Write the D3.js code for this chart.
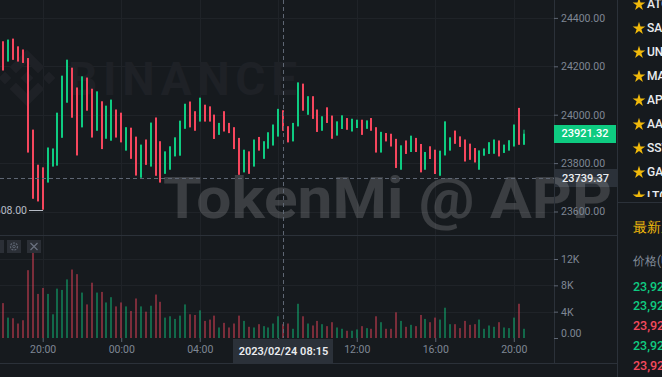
<!DOCTYPE html>
<html>
<head>
<meta charset="utf-8">
<script src="https://cdn.jsdelivr.net/npm/d3@7"></script>
<style>
body{margin:0;background:#161a1e;overflow:hidden;}
text{font-family:Roboto,"Noto Sans",sans-serif;}
</style>
</head>
<body>
<div id="chart"></div>
<script>
// BTC/USDT 15m candles, 2023-02-23 18:00 -> 2023-02-24 20:30
var open = [24303,24220,24314,24282,24269,24234,23938,23793,23782,23720,
    23786,23790,23905,24050,24194,24112,23948,24153,24107,23934,
    24055,23901,23893,24021,24008,23852,23946,23909,23740,23897,
    23786,23988,23890,23756,23773,23828,23831,23942,24054,24014,
    23972,24041,24034,24000,23917,24014,23966,23948,23904,23762,
    23848,23786,23908,23818,23860,23873,23910,24018,23952,23890,
    23952,24128,24000,24076,24021,23934,24030,23996,23914,23941,
    23986,23931,23945,23979,23942,23986,23948,23844,23924,23921,
    23900,23773,23893,23846,23904,23879,23773,23869,23855,23748,
    23832,23852,23934,23910,23897,23880,23862,23773,23831,23838,
    23839,23893,23842,23852,23869,24028,23876];
var high = [24303,24310,24314,24282,24269,24234,23938,23793,23782,23864,
    23860,24008,24161,24227,24194,24112,24158,24153,24107,24096,
    24055,24037,24062,24021,24008,23948,23946,23909,23876,23897,
    23967,23988,23890,23848,23869,23906,23975,24045,24054,24014,
    24070,24041,24034,24000,23966,24014,23966,23948,23904,23855,
    23848,23897,23908,23890,23927,23959,24024,24018,23952,23966,
    24133,24128,24076,24076,24021,23993,24030,23996,23972,23997,
    23986,23983,23979,23979,23976,23986,23948,23929,23924,23921,
    23900,23873,23893,23913,23904,23879,23846,23869,23855,23851,
    23972,23906,23934,23910,23897,23880,23862,23852,23860,23886,
    23897,23893,23876,23894,23959,24028,23938];
var low = [24183,24220,24227,24220,24214,23844,23653,23642,23608,23720,
    23786,23790,23905,24050,23988,23832,23948,24017,23906,23934,
    23858,23901,23893,23906,23886,23852,23818,23749,23740,23793,
    23786,23748,23720,23756,23773,23828,23831,23942,23948,23934,
    23972,23972,23972,23900,23917,23931,23924,23858,23752,23762,
    23756,23786,23852,23818,23860,23873,23910,23934,23886,23890,
    23952,24017,24000,23983,23929,23934,23966,23901,23914,23941,
    23938,23931,23945,23917,23942,23934,23844,23844,23890,23869,
    23780,23773,23838,23846,23846,23762,23773,23817,23755,23748,
    23832,23852,23880,23867,23807,23814,23803,23773,23831,23838,
    23839,23828,23842,23852,23869,23876,23876];
var close = [24183,24310,24227,24220,24214,23844,23653,23642,23608,23864,
    23860,24008,24161,24227,23988,23832,24158,24017,23906,24096,
    23858,24037,24062,23906,23886,23948,23818,23749,23876,23793,
    23967,23748,23720,23848,23869,23906,23975,24045,23948,23934,
    24070,23972,23972,23900,23966,23931,23924,23858,23752,23855,
    23756,23897,23852,23890,23927,23959,24024,23934,23886,23966,
    24133,24017,24076,23983,23929,23993,23966,23901,23972,23997,
    23938,23983,23979,23917,23976,23934,23844,23929,23890,23869,
    23780,23873,23838,23913,23846,23762,23846,23817,23755,23851,
    23972,23906,23880,23867,23807,23814,23803,23852,23860,23886,
    23897,23828,23876,23894,23959,23876,23921.32];
var volume = [5300,3100,3000,2200,2700,10300,13800,6700,7600,6700,
    3600,7500,7300,8900,10400,9700,6900,5100,8400,6900,
    7000,5400,6200,4800,5400,4800,4100,6000,4800,4000,
    4900,6600,5500,3100,3300,2900,3400,5100,3600,3500,
    4200,2600,2800,3400,1600,2300,1600,2200,3400,2600,
    1700,1600,2100,1800,1600,2200,3300,2100,2200,1400,
    5200,3300,2200,1900,2600,2100,1800,2400,1600,1400,
    1100,1100,1300,1800,1500,1400,3300,2400,1400,1400,
    3900,2600,1700,2000,1800,3500,2900,2400,3100,2800,
    4600,2100,2100,1500,2600,2000,2100,2800,1400,1900,
    1700,2400,1600,1500,3100,5200,1400];

var priceTicks = [23600, 23800, 24000, 24200, 24400];
var volTicks = [0, 4000, 8000, 12000];
var volTickLabels = ["0.00", "4K", "8K", "12K"];
var lastPrice = 23921.32;
var crossPrice = 23739.37;
var lowPrice = 23608.00;
var watchList = ["ATOM", "SAND", "UNI", "MATIC", "APT", "AAVE", "SSV", "GALA", "LTC"];
var tradePrices = ["23,921.32", "23,921.32", "23,921.31", "23,921.32", "23,921.31"];
var tradeSides = ["buy", "buy", "sell", "buy", "sell"];

var up = "#0ecb81", down = "#f6465d";
var W = 662, H = 377;

var times = d3.timeMinute.every(15).range(new Date(2023, 1, 23, 18, 0), new Date(2023, 1, 24, 20, 45));
var rows = times.map(function (t, i) {
    return {t: t, o: open[i], h: high[i], l: low[i], c: close[i], v: volume[i]};
});
var crossTime = new Date(2023, 1, 24, 8, 15);
var lowTime = new Date(2023, 1, 23, 20, 0);

var x = d3.scaleTime()
    .domain([new Date(2023, 1, 23, 17, 49, 30), new Date(2023, 1, 24, 22, 6, 0)])
    .range([0, 555]);
var y = d3.scaleLinear().domain([23600, 24400]).range([211.5, 17.9]);
var v = d3.scaleLinear().domain([0, 12000]).range([338, 259]);

var svg = d3.select("#chart").append("svg")
    .attr("width", W).attr("height", H);

var defs = svg.append("defs");
defs.append("clipPath").attr("id", "clipPrice").append("rect")
    .attr("x", 0).attr("y", 0).attr("width", 554).attr("height", 235);
defs.append("clipPath").attr("id", "clipWm").append("rect")
    .attr("x", 0).attr("y", 0).attr("width", 617).attr("height", 235);
defs.append("clipPath").attr("id", "clipList").append("rect")
    .attr("x", 618).attr("y", 0).attr("width", 44).attr("height", 197);

svg.append("rect").attr("width", W).attr("height", H).attr("fill", "#161a1e");

// grid
var grid = svg.append("g").attr("stroke", "#1f2328").attr("stroke-width", 1);
var hours = x.ticks(d3.timeHour.every(4));
grid.selectAll("line.gx").data(hours).enter().append("line")
    .attr("x1", function (d) { return Math.round(x(d)) + 0.5; })
    .attr("x2", function (d) { return Math.round(x(d)) + 0.5; })
    .attr("y1", 0).attr("y2", 338);
grid.selectAll("line.gy").data(priceTicks).enter().append("line")
    .attr("x1", 0).attr("x2", 554)
    .attr("y1", function (d) { return Math.round(y(d)) + 0.5; })
    .attr("y2", function (d) { return Math.round(y(d)) + 0.5; });
grid.selectAll("line.gv").data(volTicks.slice(1)).enter().append("line")
    .attr("x1", 0).attr("x2", 554)
    .attr("y1", function (d) { return Math.round(v(d)) + 0.5; })
    .attr("y2", function (d) { return Math.round(v(d)) + 0.5; });

// binance watermark
var wm = svg.append("g").attr("fill", "#1e2126");
wm.append("path")
    .attr("transform", "translate(-1.5,49.5) scale(0.45)")
    .attr("d", "M38.73 53.2l24.59-24.58 24.6 24.6 14.3-14.31L63.32 0 24.42 38.9l14.31 14.3zM0 63.31l14.3-14.31 14.31 14.31-14.31 14.3zM38.73 73.41l24.59 24.59 24.6-24.6 14.31 14.29-38.9 38.91-38.91-38.88-.02-.02 14.33-14.29zM98 63.31l14.3-14.31 14.31 14.3-14.31 14.32zM77.83 63.3L63.32 48.78 52.59 59.51l-1.24 1.23-2.54 2.54-.02.02.02.03 14.51 14.5 14.51-14.52.01-.01-.01-.01z");
wm.append("text").attr("x", 68).attr("y", 95)
    .attr("font-size", 46).attr("font-weight", 700)
    .attr("textLength", 229).attr("lengthAdjust", "spacing")
    .text("BINANCE");

// cross price label box (under watermark)
svg.append("rect").attr("x", 554).attr("y", Math.round(y(crossPrice)) - 9)
    .attr("width", 63).attr("height", 18).attr("fill", "#2b3139");

svg.append("text").attr("clip-path", "url(#clipWm)")
    .attr("x", 163).attr("y", 218)
    .attr("font-family", "'Noto Sans', sans-serif")
    .attr("font-size", 58).attr("font-weight", 700)
    .attr("textLength", 449).attr("lengthAdjust", "spacingAndGlyphs")
    .attr("fill", "rgba(255,255,255,0.16)")
    .text("TokenMi @ APP");

// candles
var cg = svg.append("g").attr("clip-path", "url(#clipPrice)");
cg.selectAll("line.wick").data(rows).enter().append("line")
    .attr("x1", function (d) { return Math.round(x(d.t)); })
    .attr("x2", function (d) { return Math.round(x(d.t)); })
    .attr("y1", function (d) { return y(d.h); })
    .attr("y2", function (d) { return y(d.l); })
    .attr("stroke", function (d) { return d.c >= d.o ? up : down; })
    .attr("stroke-width", 1);
cg.selectAll("rect.body").data(rows).enter().append("rect")
    .attr("x", function (d) { return Math.round(x(d.t)) - 1; })
    .attr("width", 2)
    .attr("y", function (d) { return y(Math.max(d.o, d.c)); })
    .attr("height", function (d) { return Math.max(1, Math.abs(y(d.o) - y(d.c))); })
    .attr("fill", function (d) { return d.c >= d.o ? up : down; });

// volume
svg.append("g").selectAll("rect").data(rows).enter().append("rect")
    .attr("x", function (d) { return Math.round(x(d.t)) - 0.75; })
    .attr("width", 1.5)
    .attr("y", function (d) { return v(d.v); })
    .attr("height", function (d) { return v(0) - v(d.v); })
    .attr("fill", function (d) { return d.c >= d.o ? up : down; })
    .attr("fill-opacity", 0.6);

// frame lines
var fr = svg.append("g").attr("stroke", "#2b3139").attr("stroke-width", 1);
fr.append("line").attr("x1", 0).attr("x2", 617).attr("y1", 235.5).attr("y2", 235.5);
fr.append("line").attr("x1", 0).attr("x2", 617).attr("y1", 363.5).attr("y2", 363.5);
fr.append("line").attr("x1", 554.5).attr("x2", 554.5).attr("y1", 0).attr("y2", 363);
fr.append("line").attr("x1", 617.5).attr("x2", 617.5).attr("y1", 0).attr("y2", H);
fr.append("line").attr("x1", 617).attr("x2", W).attr("y1", 202.5).attr("y2", 202.5);

// axes
function styleAxis(g) {
    g.select(".domain").remove();
    g.selectAll(".tick line").attr("stroke", "#5e6673");
    g.selectAll(".tick text").attr("fill", "#7f8794").attr("font-size", "10.5px")
        .attr("font-family", "Roboto, sans-serif");
}
svg.append("g").attr("transform", "translate(554,0)")
    .call(d3.axisRight(y).tickValues(priceTicks).tickFormat(d3.format(".2f")).tickSize(4).tickPadding(3))
    .call(styleAxis);
var va = svg.append("g").attr("transform", "translate(554,0)")
    .call(d3.axisRight(v).tickValues(volTicks)
        .tickFormat(function (d, i) { return volTickLabels[i]; }).tickSize(4).tickPadding(3))
    .call(styleAxis);
va.selectAll(".tick text").filter(function (d) { return d === 0; }).attr("dy", "-0.15em");
var xa = svg.append("g").attr("transform", "translate(0,338)")
    .call(d3.axisBottom(x).ticks(d3.timeHour.every(4)).tickFormat(d3.timeFormat("%H:%M")).tickSize(4).tickPadding(4))
    .call(styleAxis);
// the 08:00 label sits under the crosshair time box
xa.selectAll(".tick text").filter(function (d) { return d.getHours() === 8; }).remove();

// last price label
svg.append("rect").attr("x", 554).attr("y", Math.round(y(lastPrice)) - 9)
    .attr("width", 62).attr("height", 18).attr("fill", up);
svg.append("text").attr("x", 585).attr("y", y(lastPrice))
    .attr("text-anchor", "middle").attr("dominant-baseline", "central")
    .attr("font-size", "11px").attr("font-weight", 500).attr("fill", "#ffffff")
    .text(d3.format(".2f")(lastPrice));

// crosshair
var cx = Math.round(x(crossTime)) + 0.5, cy = Math.round(y(crossPrice)) + 0.5;
var ch = svg.append("g").attr("stroke", "#5e6673").attr("stroke-dasharray", "4,3");
ch.append("line").attr("x1", cx).attr("x2", cx).attr("y1", 0).attr("y2", 338);
ch.append("line").attr("x1", 0).attr("x2", 554).attr("y1", cy).attr("y2", cy);
svg.append("text").attr("x", 585.5).attr("y", cy)
    .attr("text-anchor", "middle").attr("dominant-baseline", "central")
    .attr("font-size", "11px").attr("font-weight", 500).attr("fill", "#eaecef")
    .text(d3.format(".2f")(crossPrice));
svg.append("rect").attr("x", cx - 50.5).attr("y", 339).attr("width", 100).attr("height", 24)
    .attr("fill", "#2b3139");
svg.append("text").attr("x", cx).attr("y", 351)
    .attr("text-anchor", "middle").attr("dominant-baseline", "central")
    .attr("font-size", "11px").attr("font-weight", 600).attr("fill", "#eaecef")
    .text(d3.timeFormat("%Y/%m/%d %H:%M")(crossTime));

// low marker
var ly = Math.round(y(lowPrice)) + 0.5;
svg.append("line").attr("x1", 29).attr("x2", Math.round(x(lowTime)))
    .attr("y1", ly).attr("y2", ly).attr("stroke", "#b7bdc6");
svg.append("text").attr("x", 27).attr("y", ly)
    .attr("text-anchor", "end").attr("dominant-baseline", "central")
    .attr("font-size", "10.5px").attr("fill", "#b7bdc6")
    .text(d3.format(".2f")(lowPrice));

// volume pane buttons
var btn = svg.append("g");
[-10, 7, 27].forEach(function (bx) {
    btn.append("rect").attr("x", bx).attr("y", 240).attr("width", 14).attr("height", 13)
        .attr("fill", "#2b2f36");
});
btn.append("circle").attr("cx", 14).attr("cy", 246.5).attr("r", 3.5)
    .attr("fill", "none").attr("stroke", "#5e6673").attr("stroke-width", 1.2)
    .attr("stroke-dasharray", "2,1");
btn.append("circle").attr("cx", 14).attr("cy", 246.5).attr("r", 1.3)
    .attr("fill", "none").attr("stroke", "#5e6673");
btn.append("path").attr("d", "M30.5,243L37.5,250M37.5,243L30.5,250")
    .attr("stroke", "#6b7280").attr("stroke-width", 1.2);

// right panel
var list = svg.append("g").attr("clip-path", "url(#clipList)");
watchList.forEach(function (s, i) {
    var yy = 4 + i * 24;
    list.append("path").attr("d", d3.symbol().type(d3.symbolStar).size(50)())
        .attr("transform", "translate(639," + (yy + 0.5) + ")").attr("fill", "#f0b90b");
    list.append("text").attr("x", 647).attr("y", yy)
        .attr("dominant-baseline", "central").attr("font-size", "12px").attr("font-weight", 500)
        .attr("fill", "#eaecef").text(s);
});
svg.append("text").attr("x", 633).attr("y", 227).attr("dominant-baseline", "central")
    .attr("font-family", "'Noto Sans CJK SC', sans-serif")
    .attr("font-size", "14px").attr("fill", "#f0b90b").text("最新成交");
svg.append("text").attr("x", 633).attr("y", 261).attr("dominant-baseline", "central")
    .attr("font-family", "'Noto Sans CJK SC', sans-serif")
    .attr("font-size", "12px").attr("fill", "#848e9c").text("价格(USDT)");
tradePrices.forEach(function (p, i) {
    svg.append("text").attr("x", 633).attr("y", 286 + i * 19.8).attr("dominant-baseline", "central")
        .attr("font-size", "12.5px").attr("font-weight", 500)
        .attr("fill", tradeSides[i] === "buy" ? up : down).text(p);
});
</script>
</body>
</html>
